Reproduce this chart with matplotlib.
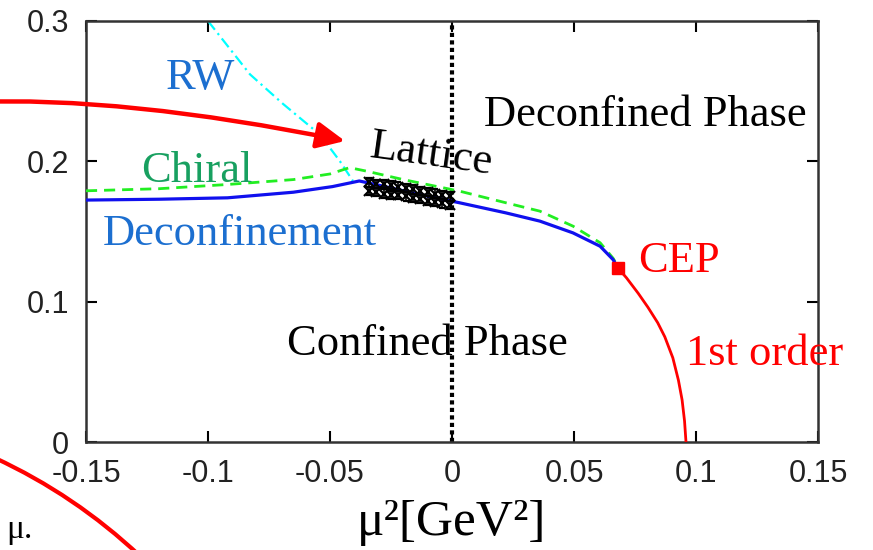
import numpy as np
import matplotlib
matplotlib.use("Agg")
import matplotlib.pyplot as plt
from matplotlib.path import Path
from matplotlib.patches import FancyArrowPatch, PathPatch

# curves (mu^2 [GeV^2], T [GeV])
deconf_x = [-0.15, -0.12, -0.092, -0.065, -0.049, -0.038, -0.03, -0.015, 0.003, 0.022, 0.036, 0.0496, 0.0607, 0.066, 0.068]
deconf_y = [0.1724, 0.173, 0.174, 0.178, 0.182, 0.186, 0.183, 0.177, 0.1705, 0.1633, 0.1574, 0.149, 0.1395, 0.130, 0.124]

chiral_x = [-0.15, -0.12, -0.092, -0.065, -0.05, -0.042, -0.035, -0.02, 0.003, 0.022, 0.036, 0.0496, 0.0607, 0.066, 0.068]
chiral_y = [0.179, 0.1805, 0.1835, 0.187, 0.191, 0.1955, 0.193, 0.187, 0.1788, 0.1705, 0.1645, 0.1538, 0.142, 0.131, 0.125]

first_x = [0.068, 0.0715, 0.0763, 0.0803, 0.0843, 0.0872, 0.0905, 0.0928, 0.0943, 0.0953, 0.0959]
first_y = [0.124, 0.117, 0.106, 0.096, 0.085, 0.075, 0.060, 0.044, 0.030, 0.015, 0.0]

rw_x = [-0.1, -0.0828, -0.0693, -0.0541, -0.0459, -0.0406]
rw_y = [0.3, 0.262, 0.241, 0.219, 0.200, 0.186]

cep_x = [0.068]
cep_y = [0.124]

lat_x = [-0.034, -0.031, -0.028, -0.025, -0.022, -0.019, -0.016, -0.013, -0.010, -0.007, -0.004, -0.001]
lat_y_hi = [0.185, 0.184, 0.184, 0.183, 0.182, 0.181, 0.180, 0.179, 0.178, 0.177, 0.176, 0.175]
lat_y_lo = [0.179, 0.178, 0.177, 0.176, 0.176, 0.175, 0.174, 0.173, 0.172, 0.171, 0.170, 0.169]
lat_err = 0.003

xticks = [-0.15, -0.1, -0.05, 0, 0.05, 0.1, 0.15]
xtick_labels = ["-0.15", "-0.1", "-0.05", "0", "0.05", "0.1", "0.15"]
yticks = [0, 0.1, 0.2, 0.3]
ytick_labels = ["0", "0.1", "0.2", "0.3"]

W, H = 873, 550
fig = plt.figure(figsize=(W / 100, H / 100), dpi=100)
ax = fig.add_axes([86 / W, 1 - 442 / H, (818 - 86) / W, (442 - 21) / H])
ax.set_xlim(-0.15, 0.15)
ax.set_ylim(0, 0.3)

serif = "Liberation Serif"

ax.axvline(0, color="black", lw=3, ls=(0, (1, 0.8)), zorder=1)
ax.plot(rw_x, rw_y, color="cyan", lw=1.6, ls=(0, (5, 2, 1, 2)), zorder=2)
ax.plot(chiral_x, chiral_y, color="#22ee22", lw=2, ls=(0, (4, 2.5)), zorder=3)
ax.plot(deconf_x, deconf_y, color="#1010ee", lw=2.3, zorder=4)
ax.plot(first_x, first_y, color="red", lw=2, zorder=4)
ax.plot(cep_x, cep_y, "s", color="red", ms=9, zorder=5)
for ly in (lat_y_hi, lat_y_lo):
    ax.errorbar(lat_x, ly, yerr=lat_err, fmt="x", color="black", ms=7, mew=1.6,
                elinewidth=1.2, capsize=2, zorder=6)

ax.set_xticks(xticks)
ax.set_xticklabels(xtick_labels)
ax.set_yticks(yticks)
ax.set_yticklabels(ytick_labels)
ax.tick_params(direction="in", length=8, width=1.5, top=True, right=True,
               labelsize=22, labelcolor="#222222", pad=12)
for lab in ax.get_xticklabels() + ax.get_yticklabels():
    lab.set_family("Liberation Sans")
for s in ax.spines.values():
    s.set_linewidth(1.8)
    s.set_color("#333333")

ax.set_xlabel("\u03bc\u00b2[GeV\u00b2]", family=serif, fontsize=37, labelpad=8)

tk = dict(family=serif, fontsize=32, ha="center", va="baseline")
ax.text(-0.103, 0.2514, "RW", color="#1c6fd0", **tk)
ax.text(-0.1045, 0.185, "Chiral", color="#18a060", **tk)
ax.text(-0.0869, 0.1407, "Deconfinement", color="#1c6fd0", **tk)
ax.text(-0.009, 0.197, "Lattice", color="black", rotation=-8,
        rotation_mode="anchor", **tk)
ax.text(0.0791, 0.225, "Deconfined Phase", color="black", **tk)
ax.text(-0.0102, 0.0621, "Confined Phase", color="black", **tk)
ax.text(0.093, 0.1214, "CEP", color="red", **tk)
ax.text(0.1283, 0.055, "1st order", color="red", **tk)

# pieces of the neighbouring figure, in figure pixels
def fp(x, y):
    return (x / W, 1 - y / H)

arrow_path = Path([fp(-30, 102), fp(124, 96), fp(345, 141)],
                  [Path.MOVETO, Path.CURVE3, Path.CURVE3])
arrow = FancyArrowPatch(path=arrow_path, transform=fig.transFigure,
                        arrowstyle="-|>,head_length=17,head_width=8",
                        color="red", lw=3.2, clip_on=False)
fig.add_artist(arrow)

arc_path = Path([fp(-5, 458), fp(75, 495), fp(140, 556)],
                [Path.MOVETO, Path.CURVE3, Path.CURVE3])
fig.add_artist(PathPatch(arc_path, transform=fig.transFigure, fill=False,
                         edgecolor="red", lw=3, clip_on=False))
fig.text(6 / W, 1 - 538 / H, "\u03bc.", family=serif, fontsize=24, va="baseline")

fig.savefig("out.png", dpi=100)
